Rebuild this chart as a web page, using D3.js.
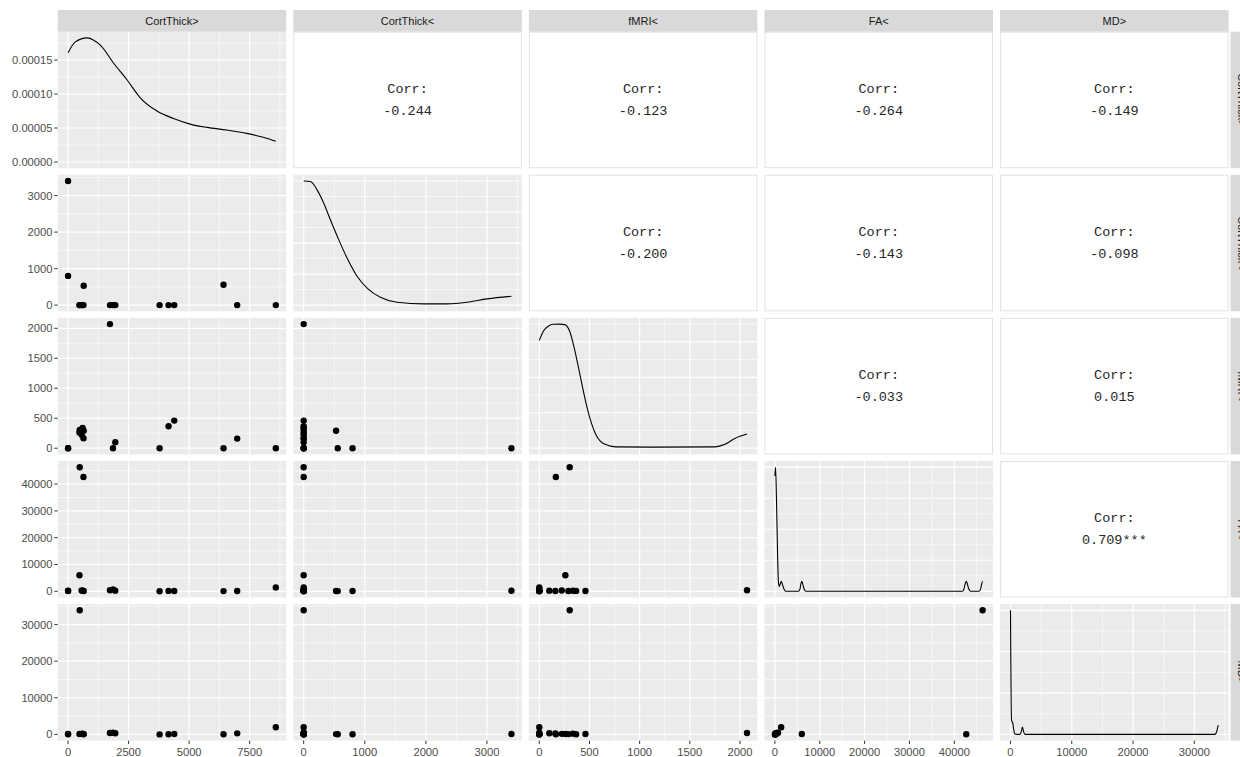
<!DOCTYPE html>
<html>
<head>
<meta charset="utf-8">
<script src="https://cdn.jsdelivr.net/npm/d3@7"></script>
<style>
  html, body { margin: 0; padding: 0; background: #ffffff; }
  svg { display: block; }
</style>
</head>
<body>
<svg id="chart" width="1240" height="757"></svg>
<script>
// ---- data -------------------------------------------------------------
const variables = ["CortThick>", "CortThick<", "fMRI<", "FA<", "MD>"];

// one entry per subject
const cortThickGt = [0, 0, 480, 635, 470, 645, 560, 600, 1730, 1855, 1950, 3780, 4150, 4385, 6420, 6985, 8580];
const cortThickLt = [3400, 800, 0, 0, 0, 530, 0, 0, 0, 0, 0, 0, 0, 0, 557, 0, 0];
const fmriLt      = [0, 0, 303, 165, 260, 290, 224, 336, 2070, 0, 100, 0, 367, 460, 0, 160, 0];
const faLt        = [200, 100, 46300, 42650, 6000, 100, 300, 200, 400, 700, 250, 0, 150, 100, 80, 120, 1400];
const mdGt        = [100, 50, 33900, 50, 100, 80, 150, 200, 380, 450, 300, 0, 60, 90, 40, 280, 1950];

// kernel density curves on the diagonal: [value, density]
const densCortThickGt = [[0,0.0001608],[300,0.0001768],[784,0.0001826],[1060,0.0001793],[1333,0.000172],[1882,0.0001453],
  [2432,0.000121],[2982,0.0000945],[3670,0.000075],[4355,0.000064],[5040,0.0000557],[5730,0.0000509],
  [6555,0.000047],[7380,0.0000421],[8065,0.0000363],[8580,0.0000305]];
const densCortThickLt = [[0,0.000800],[110,0.000797],[219,0.000743],[327,0.000658],[437,0.000550],[573,0.000422],
  [710,0.000304],[874,0.000186],[1038,0.000110],[1255,0.0000504],[1529,0.0000184],[1964,0.0000080],
  [2347,0.0000080],[2674,0.0000184],[3002,0.0000400],[3400,0.0000568]];
const densFmriLt = [[0,0.00152],[40,0.00165],[89,0.00172],[138,0.001747],[204,0.00175],[254,0.001743],[303,0.00165],
  [352,0.00139],[402,0.00106],[451,0.000728],[500,0.000445],[566,0.000186],[648,0.0000578],[764,0.0000193],
  [1125,0.0000158],[1751,0.0000193],[1850,0.0000543],[1948,0.000138],[2070,0.0002]];
const densFaLt = [[0,0.00093],[150,0.001],[350,0.00075],[600,0.0003],[800,0.00007],[1000,0.00004],[1200,0.00006],
  [1400,0.00008],[1650,0.00006],[2000,0.00002],[2400,0],[5300,0],[5600,0.00002],[5800,0.00006],[6000,0.00008],
  [6200,0.00006],[6500,0.00002],[6900,0],[41800,0],[42150,0.00002],[42400,0.00006],[42650,0.00008],
  [42900,0.00006],[43200,0.00002],[43600,0],[45500,0],[45850,0.00002],[46100,0.00006],[46300,0.00008]];
const densMdGt = [[0,0.003],[60,0.00165],[160,0.00036],[280,0.0003],[380,0.00027],[520,0.00012],[700,0.000015],
  [1000,0],[1550,0],[1750,0.00006],[1950,0.00018],[2150,0.00006],[2350,0],[33300,0],[33550,0.00003],
  [33750,0.00012],[33900,0.000225]];

// axis breaks per variable
const valueTicks = [
  [0, 2500, 5000, 7500],
  [0, 1000, 2000, 3000],
  [0, 500, 1000, 1500, 2000],
  [0, 10000, 20000, 30000, 40000],
  [0, 10000, 20000, 30000]
];
const densityTicks = [
  [0, 0.00005, 0.0001, 0.00015],
  [0, 0.0002, 0.0004, 0.0006, 0.0008],
  [0, 0.0005, 0.001, 0.0015],
  [0, 0.00025, 0.0005, 0.00075, 0.001],
  [0, 0.001, 0.002, 0.003]
];

// correlation labels for the upper triangle: [row variable, column variable, label]
const corrLabels = [
  [0, 1, "-0.244"], [0, 2, "-0.123"], [0, 3, "-0.264"], [0, 4, "-0.149"],
  [1, 2, "-0.200"], [1, 3, "-0.143"], [1, 4, "-0.098"],
  [2, 3, "-0.033"], [2, 4, "0.015"],
  [3, 4, "0.709***"]
];

const series = [cortThickGt, cortThickLt, fmriLt, faLt, mdGt];
const densities = [densCortThickGt, densCortThickLt, densFmriLt, densFaLt, densMdGt];

// ---- layout -----------------------------------------------------------
const n = variables.length;
const left0 = 57.7, top0 = 31.7;
const panelW = 228.5, panelH = 136.5;
const stepX = 235.6, stepY = 143.1;
const stripH = 21.7;
const axisFont = "'Liberation Sans', Arial, Helvetica, sans-serif";
const monoFont = "'Liberation Mono', 'Courier New', Courier, monospace";

const px = c => left0 + c * stepX;
const py = r => top0 + r * stepY;

function expand(lo, hi) {
  const d = (hi - lo) * 0.05;
  return [lo - d, hi + d];
}
function minorBreaks(ticks, domain) {
  const s = ticks[1] - ticks[0];
  const out = ticks.map(t => t - s / 2).concat([ticks[ticks.length - 1] + s / 2]);
  return out.filter(v => v >= domain[0] && v <= domain[1]);
}

const xScales = series.map((vals, c) =>
  d3.scaleLinear().domain(expand(d3.min(vals), d3.max(vals))).range([px(c), px(c) + panelW]));
const yScales = series.map((vals, r) =>
  d3.scaleLinear().domain(expand(d3.min(vals), d3.max(vals))).range([py(r) + panelH, py(r)]));
const dScales = densities.map((d, i) =>
  d3.scaleLinear().domain(expand(0, d3.max(d, p => p[1]))).range([py(i) + panelH, py(i)]));

const svg = d3.select("#chart");
const defs = svg.append("defs");

// ---- panels -----------------------------------------------------------
for (let r = 0; r < n; r++) {
  for (let c = 0; c < n; c++) {
    const x0 = px(c), y0 = py(r);
    const g = svg.append("g");

    if (r < c) {
      // upper triangle: correlation text
      g.append("rect").attr("x", x0 + 0.5).attr("y", y0 + 0.5)
        .attr("width", panelW - 1).attr("height", panelH - 1)
        .attr("fill", "#ffffff").attr("stroke", "#e3e3e3").attr("stroke-width", 1);
      const lab = corrLabels.find(d => d[0] === r && d[1] === c);
      const cx = x0 + panelW / 2, cy = y0 + panelH / 2;
      const t = g.append("text").attr("x", cx).attr("y", cy)
        .attr("text-anchor", "middle").attr("font-family", monoFont)
        .attr("font-size", 13.5).attr("fill", "#262626");
      t.append("tspan").attr("x", cx).attr("y", cy - 11.5).attr("dy", "0.35em").text("Corr:");
      t.append("tspan").attr("x", cx).attr("y", cy + 10.5).attr("dy", "0.35em").text(lab[2]);
      continue;
    }

    const xs = xScales[c];
    const ys = (r === c) ? dScales[r] : yScales[r];
    const yt = (r === c) ? densityTicks[r] : valueTicks[r];

    g.append("rect").attr("x", x0).attr("y", y0).attr("width", panelW).attr("height", panelH)
      .attr("fill", "#ebebeb");

    // minor grid
    minorBreaks(valueTicks[c], xs.domain()).forEach(v => {
      g.append("line").attr("x1", xs(v)).attr("x2", xs(v)).attr("y1", y0).attr("y2", y0 + panelH)
        .attr("stroke", "#ffffff").attr("stroke-width", 0.6);
    });
    minorBreaks(yt, ys.domain()).forEach(v => {
      g.append("line").attr("x1", x0).attr("x2", x0 + panelW).attr("y1", ys(v)).attr("y2", ys(v))
        .attr("stroke", "#ffffff").attr("stroke-width", 0.6);
    });
    // major grid
    valueTicks[c].forEach(v => {
      g.append("line").attr("x1", xs(v)).attr("x2", xs(v)).attr("y1", y0).attr("y2", y0 + panelH)
        .attr("stroke", "#ffffff").attr("stroke-width", 1.2);
    });
    yt.forEach(v => {
      g.append("line").attr("x1", x0).attr("x2", x0 + panelW).attr("y1", ys(v)).attr("y2", ys(v))
        .attr("stroke", "#ffffff").attr("stroke-width", 1.2);
    });

    const clipId = `clip-${r}-${c}`;
    defs.append("clipPath").attr("id", clipId).append("rect")
      .attr("x", x0).attr("y", y0).attr("width", panelW).attr("height", panelH);
    const marks = g.append("g").attr("clip-path", `url(#${clipId})`);

    if (r === c) {
      const line = d3.line().x(d => xs(d[0])).y(d => ys(d[1])).curve(d3.curveMonotoneX);
      marks.append("path").datum(densities[r]).attr("d", line)
        .attr("fill", "none").attr("stroke", "#000000").attr("stroke-width", 1.1);
    } else {
      const pts = series[c].map((v, i) => [v, series[r][i]]);
      marks.selectAll("circle").data(pts).join("circle")
        .attr("cx", d => xs(d[0])).attr("cy", d => ys(d[1])).attr("r", 3.2)
        .attr("fill", "#000000");
    }
  }
}

// ---- axes -------------------------------------------------------------
const tickCol = "#333333", labCol = "#4d4d4d";
// left axis: first row shows the density scale of the first diagonal panel
for (let r = 0; r < n; r++) {
  const ys = r === 0 ? dScales[0] : yScales[r];
  const ticks = r === 0 ? densityTicks[0] : valueTicks[r];
  const fmt = r === 0 ? d3.format(".5f") : d3.format("d");
  const ax = svg.append("g");
  ticks.forEach(v => {
    ax.append("line").attr("x1", left0 - 3.4).attr("x2", left0).attr("y1", ys(v)).attr("y2", ys(v))
      .attr("stroke", tickCol).attr("stroke-width", 1);
    ax.append("text").attr("x", left0 - 5.2).attr("y", ys(v)).attr("dy", "0.35em")
      .attr("text-anchor", "end").attr("font-family", axisFont).attr("font-size", 11.2)
      .attr("fill", labCol).text(fmt(v));
  });
}
// bottom axis
const yBottom = py(n - 1) + panelH;
for (let c = 0; c < n; c++) {
  const xs = xScales[c];
  const ax = svg.append("g");
  valueTicks[c].forEach(v => {
    ax.append("line").attr("x1", xs(v)).attr("x2", xs(v)).attr("y1", yBottom).attr("y2", yBottom + 3.4)
      .attr("stroke", tickCol).attr("stroke-width", 1);
    ax.append("text").attr("x", xs(v)).attr("y", yBottom + 11.5).attr("dy", "0.35em")
      .attr("text-anchor", "middle").attr("font-family", axisFont).attr("font-size", 11.2)
      .attr("fill", labCol).text(d3.format("d")(v));
  });
}

// ---- strips -----------------------------------------------------------
for (let c = 0; c < n; c++) {
  const x0 = px(c);
  svg.append("rect").attr("x", x0).attr("y", top0 - stripH).attr("width", panelW).attr("height", stripH)
    .attr("fill", "#d9d9d9");
  svg.append("text").attr("x", x0 + panelW / 2).attr("y", top0 - stripH / 2).attr("dy", "0.35em")
    .attr("text-anchor", "middle").attr("font-family", axisFont).attr("font-size", 11)
    .attr("fill", "#1a1a1a").text(variables[c]);
}
// row strips sit on the right edge, running past the drawing area
const stripX = px(n - 1) + panelW + 2;
for (let r = 0; r < n; r++) {
  const y0 = py(r);
  svg.append("rect").attr("x", stripX).attr("y", y0).attr("width", stripH).attr("height", panelH)
    .attr("fill", "#d9d9d9");
  const cx = stripX + stripH / 2, cy = y0 + panelH / 2;
  svg.append("text").attr("transform", `translate(${cx},${cy}) rotate(90)`)
    .attr("dy", "0.35em").attr("text-anchor", "middle").attr("font-family", axisFont)
    .attr("font-size", 11).attr("fill", "#1a1a1a").text(variables[r]);
}
</script>
</body>
</html>
